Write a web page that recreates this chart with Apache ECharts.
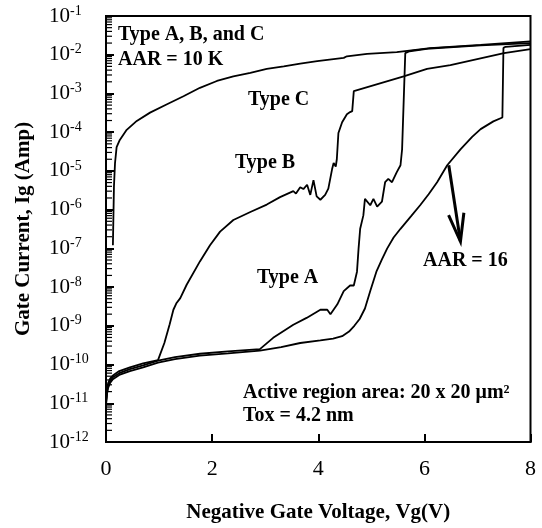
<!DOCTYPE html>
<html>
<head>
<meta charset="utf-8">
<script src="https://cdn.jsdelivr.net/npm/echarts@6/dist/echarts.min.js"></script>
<style>
  html, body { margin: 0; padding: 0; background: #fff; }
  #chart { width: 542px; height: 528px; }
</style>
</head>
<body>
<div id="chart"></div>
<script>
const FONT = '"Liberation Serif", "Times New Roman", serif';

// Shared low-field leakage segment (gate voltage, V)
const baseV = [0, 0.01, 0.02, 0.04, 0.08, 0.13, 0.25, 0.45, 0.7, 0.98, 1.3, 1.77, 2.3, 2.9];

// AAR = 16 device: leakage branch, then the late breakdown
const aar16BaseI = [8.9e-12, 1.26e-11, 1.78e-11, 2.5e-11, 3.4e-11, 4.2e-11, 5.4e-11, 6.8e-11, 8.5e-11, 1.12e-10, 1.38e-10, 1.7e-10, 1.95e-10, 2.3e-10];
const aar16V = [3.3, 3.66, 4.04, 4.28, 4.45, 4.58, 4.68, 4.78, 4.88, 4.98, 5.1, 5.2, 5.3, 5.42, 5.55, 5.75, 5.92, 6.08, 6.24, 6.43, 6.68, 6.9, 7.06, 7.3, 7.47, 7.49, 7.53, 8.0];
const aar16I = [2.8e-10, 3.6e-10, 4.2e-10, 4.7e-10, 5.4e-10, 7.1e-10, 1.0e-9, 1.5e-9, 2.8e-9, 7.9e-9, 2.6e-8, 5.2e-8, 1.0e-7, 1.9e-7, 3.2e-7, 6.8e-7, 1.3e-6, 2.5e-6, 5.1e-6, 1.4e-5, 3.6e-5, 7.6e-5, 1.2e-4, 1.9e-4, 2.4e-4, 1.5e-2, 1.6e-2, 1.8e-2];

// Type A
const typeABaseI = [1.0e-11, 1.4e-11, 2.0e-11, 2.8e-11, 3.8e-11, 4.7e-11, 6.0e-11, 7.6e-11, 9.5e-11, 1.26e-10, 1.55e-10, 1.9e-10, 2.2e-10, 2.5e-10];
const typeAV = [3.15, 3.53, 3.78, 4.04, 4.17, 4.23, 4.36, 4.48, 4.6, 4.67, 4.73, 4.76, 4.79, 4.85, 4.88, 4.98, 5.04, 5.11, 5.2, 5.26, 5.32, 5.39, 5.48, 5.55, 5.58, 5.64, 5.72, 6.11, 7.06, 8.0];
const typeAI = [4.9e-10, 1.07e-9, 1.6e-9, 2.6e-9, 2.6e-9, 2.0e-9, 3.6e-9, 7.9e-9, 1.1e-8, 1.1e-8, 2.5e-8, 1.0e-7, 3.2e-7, 7.1e-7, 1.9e-6, 1.3e-6, 1.9e-6, 1.2e-6, 1.6e-6, 5.1e-6, 6.2e-6, 5.1e-6, 9.3e-6, 1.4e-5, 3.6e-5, 1.1e-2, 1.23e-2, 1.45e-2, 1.74e-2, 2.0e-2];

// Type B
const typeBBaseV = [0, 0.01, 0.02, 0.04, 0.08, 0.13, 0.25, 0.45, 0.7, 0.98];
const typeBBaseI = [1.12e-11, 1.6e-11, 2.3e-11, 3.3e-11, 4.4e-11, 5.2e-11, 6.8e-11, 8.5e-11, 1.07e-10, 1.3e-10];
const typeBV = [1.1, 1.2, 1.27, 1.33, 1.4, 1.52, 1.77, 1.96, 2.15, 2.4, 2.72, 3.03, 3.28, 3.53, 3.58, 3.66, 3.72, 3.79, 3.85, 3.91, 3.94, 3.97, 4.04, 4.13, 4.19, 4.26, 4.29, 4.33, 4.35, 4.38, 4.45, 4.54, 4.6, 4.64, 4.67, 4.7, 5.61, 6.05, 6.49, 6.52, 7.5, 8.0];
const typeBI = [3.6e-10, 1.1e-9, 2.6e-9, 3.9e-9, 5.2e-9, 1.15e-8, 4.6e-8, 1.2e-7, 2.7e-7, 5.4e-7, 8.7e-7, 1.35e-6, 2.1e-6, 3.0e-6, 2.6e-6, 3.8e-6, 3.4e-6, 4.4e-6, 2.4e-6, 5.8e-6, 6.0e-6, 2.2e-6, 1.8e-6, 2.4e-6, 3.5e-6, 1.1e-5, 1.6e-5, 1.3e-5, 2.0e-5, 9.5e-5, 1.8e-4, 2.9e-4, 3.3e-4, 3.5e-4, 1.15e-3, 1.26e-3, 2.75e-3, 4.3e-3, 5.4e-3, 5.9e-3, 1.1e-2, 1.4e-2];

// Type C
const typeCV = [0.13, 0.15, 0.17, 0.2, 0.26, 0.39, 0.58, 0.83, 1.14, 1.46, 1.77, 2.09, 2.4, 2.72, 3.03, 3.35, 3.66, 3.98, 4.48, 4.54, 4.92, 5.48, 6.11, 7.06, 8.0];
const typeCI = [1.2e-7, 4.0e-6, 1.6e-5, 4.1e-5, 6.3e-5, 1.15e-4, 1.95e-4, 3.2e-4, 5.2e-4, 8.5e-4, 1.4e-3, 2.1e-3, 2.75e-3, 3.4e-3, 4.3e-3, 5.0e-3, 5.9e-3, 6.8e-3, 8.3e-3, 9.1e-3, 1.05e-2, 1.17e-2, 1.48e-2, 1.8e-2, 2.2e-2];

// Arrow pointing from the AAR = 16 curve to its label
const arrowV = [6.46, 6.68];
const arrowI = [1.4e-5, 1.5e-7];

// Axis ranges and log-decade minor tick mantissas
const xMin = 0, xMax = 8, xStep = 2;
const yMin = 1e-12, yMax = 1e-1;
const decadeExponents = [-12, -11, -10, -9, -8, -7, -6, -5, -4, -3, -2];
const minorMantissas = [2, 3, 4, 5, 6, 7, 8, 9];

function pairs(v, i) { return v.map((x, k) => [x, i[k]]); }

const minorTickValues = [];
decadeExponents.forEach(e => minorMantissas.forEach(m => minorTickValues.push([xMin, m * Math.pow(10, e)])));

const lineStyle = { color: '#000', width: 1.8 };
function curve(name, data) {
  return {
    name, type: 'line', data, showSymbol: false, symbol: 'none',
    lineStyle, itemStyle: { color: '#000' }, clip: true, silent: true
  };
}

const txt = (text, x, y, size) => ({
  type: 'text', x, y,
  style: {
    text, fill: '#000', font: 'bold ' + (size || 20) + 'px ' + FONT,
    textAlign: 'left', textVerticalAlign: 'middle'
  }
});

const chart = echarts.init(document.getElementById('chart'), null, { renderer: 'canvas' });

chart.setOption({
  animation: false,
  backgroundColor: '#fff',
  grid: { left: 106, right: 11.5, top: 16, bottom: 83, show: true, borderColor: '#000', borderWidth: 2, backgroundColor: 'transparent' },
  xAxis: {
    type: 'value', min: xMin, max: xMax, interval: xStep,
    axisLine: { show: true, lineStyle: { color: '#000', width: 2 } },
    axisTick: { show: true, inside: true, length: 8, lineStyle: { color: '#000', width: 2 } },
    splitLine: { show: false },
    axisLabel: { color: '#000', fontFamily: FONT, fontSize: 22, margin: 16 },
    name: 'Negative Gate Voltage, Vg(V)', nameLocation: 'middle', nameGap: 60,
    nameTextStyle: { color: '#000', fontFamily: FONT, fontSize: 21, fontWeight: 'bold' }
  },
  yAxis: {
    type: 'log', logBase: 10, min: yMin, max: yMax, interval: 1, splitNumber: 11,
    axisLine: { show: true, lineStyle: { color: '#000', width: 2 } },
    axisTick: { show: true, inside: true, length: 8, lineStyle: { color: '#000', width: 2 } },
    minorTick: { show: false },
    splitLine: { show: false },
    minorSplitLine: { show: false },
    axisLabel: {
      align: 'left', margin: 57, color: '#000',
      formatter: v => '{b|10}{s|' + Math.round(Math.log10(v)) + '}',
      rich: {
        b: { fontFamily: FONT, fontSize: 21, color: '#000', lineHeight: 24 },
        s: { fontFamily: FONT, fontSize: 14, color: '#000', lineHeight: 14, verticalAlign: 'top' }
      }
    },
    name: 'Gate Current, Ig (Amp)', nameLocation: 'middle', nameGap: 72,
    nameTextStyle: { color: '#000', fontFamily: FONT, fontSize: 21, fontWeight: 'bold' }
  },
  series: [
    curve('AAR = 16', pairs(baseV, aar16BaseI).concat(pairs(aar16V, aar16I))),
    curve('Type A', pairs(baseV, typeABaseI).concat(pairs(typeAV, typeAI))),
    curve('Type B', pairs(typeBBaseV, typeBBaseI).concat(pairs(typeBV, typeBI))),
    curve('Type C', pairs(typeCV, typeCI)),
    {
      // log minor ticks along the inside of the left axis
      name: 'minor ticks', type: 'custom', silent: true, clip: false,
      data: minorTickValues,
      renderItem: (params, api) => {
        const p = api.coord([api.value(0), api.value(1)]);
        return {
          type: 'line',
          shape: { x1: p[0], y1: p[1], x2: p[0] + 6, y2: p[1] },
          style: { stroke: '#000', lineWidth: 1.2 }
        };
      }
    }
  ]
});

// Annotations and the arrow, placed through the grid's coordinate system
const tail = chart.convertToPixel({ gridIndex: 0 }, [arrowV[0], arrowI[0]]);
const tip = chart.convertToPixel({ gridIndex: 0 }, [arrowV[1], arrowI[1]]);
const ang = Math.atan2(tail[1] - tip[1], tail[0] - tip[0]);
const headLen = 29, headHalf = 0.27;
const wing = s => [tip[0] + headLen * Math.cos(ang + s * headHalf), tip[1] + headLen * Math.sin(ang + s * headHalf)];

chart.setOption({
  graphic: [
    txt('Type A, B, and C', 118, 35),
    txt('AAR = 10 K', 118, 60),
    txt('Type C', 248, 100),
    txt('Type B', 235, 163),
    txt('Type A', 257, 278),
    txt('AAR = 16', 423, 261),
    txt('Active region area: 20 x 20 μm²', 243, 393),
    txt('Tox = 4.2 nm', 243, 416),
    { type: 'line', shape: { x1: tail[0], y1: tail[1], x2: tip[0], y2: tip[1] }, style: { stroke: '#000', lineWidth: 3 } },
    { type: 'polyline', shape: { points: [wing(1), tip, wing(-1)] }, style: { stroke: '#000', lineWidth: 3, fill: null } }
  ]
});
</script>
</body>
</html>
